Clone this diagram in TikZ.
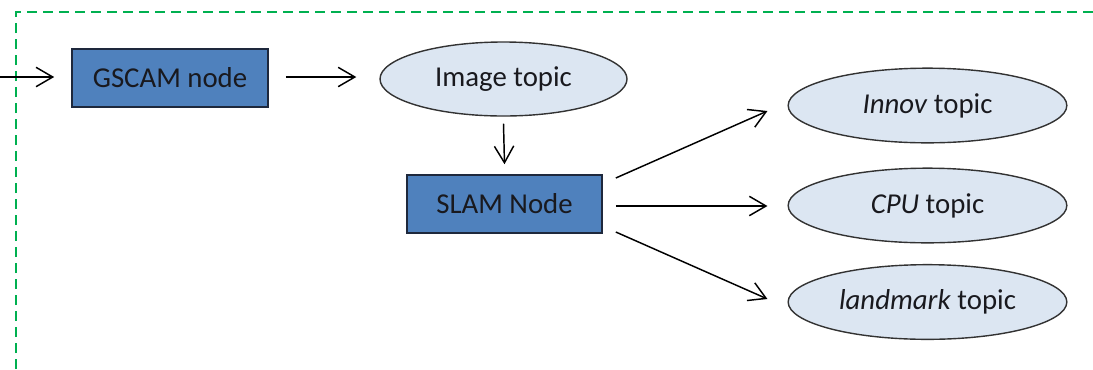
\documentclass[tikz,border=0pt]{standalone}
\usepackage{fontspec}
\setmainfont{Carlito}
\usetikzlibrary{arrows.meta,shapes.geometric}
\definecolor{nodeblue}{RGB}{79,129,189}
\definecolor{nodeedge}{RGB}{30,40,60}
\definecolor{topicfill}{RGB}{220,230,242}
\definecolor{topicedge}{RGB}{50,50,50}
\definecolor{frameGreen}{RGB}{0,176,80}
\definecolor{labelInk}{RGB}{25,25,30}
\tikzset{
  procbox/.style={draw=nodeedge, line width=1.2pt, fill=nodeblue, inner sep=0pt, text=labelInk,
    minimum width=147pt, minimum height=43.5pt, font=\fontsize{21.6}{24}\selectfont},
  topic/.style={ellipse, draw=topicedge, line width=1.05pt, fill=topicfill, inner sep=0pt, text=labelInk,
    font=\fontsize{21.6}{24}\selectfont},
  flow/.style={line width=1.1pt, -{Straight Barb[length=12.5pt,width=14.5pt,line width=1.1pt]}},
  frame/.style={draw=frameGreen, line width=1pt, dash pattern=on 7.5pt off 4.5pt}
}
\begin{document}
\begin{tikzpicture}[x=0.75pt, y=-0.75pt]
  \useasboundingbox (0,0) rectangle (1093,369);
  % subsystem boundary
  \draw[frame] (16,369) -- (16,12) -- (1093,12);

  % nodes
  \node[procbox] (gscam) at (170,78) {GSCAM node};
  \node[topic, minimum width=185.25pt, minimum height=55.5pt] (image) at (503.5,79) {Image topic};
  \node[procbox, minimum width=146.25pt] (slam) at (504.5,204) {SLAM Node};
  \node[topic, minimum width=209pt, minimum height=56pt] (innov) at (927.5,105.5) {\textit{Innov} topic};
  \node[topic, minimum width=209pt, minimum height=56pt] (cpu) at (927.5,205.5) {\textit{CPU} topic};
  \node[topic, minimum width=209pt, minimum height=56pt] (landmark) at (927.5,302) {\textit{landmark} topic};

  % incoming stream
  \coordinate (camin) at (0,77);

  % connectors
  \draw[flow, shorten >=17*0.75pt] (camin) -- (gscam.west |- camin);
  \draw[flow] ([shift={(17,-1)}]gscam.east) -- ([shift={(-23,-2)}]image.west);
  \draw[flow] ([shift={(0,7)}]image.south) -- ([shift={(0,-10)}]slam.north);
  \draw[flow] ([shift={(13,-26)}]slam.east) -- ([shift={(-20,5.5)}]innov.west);
  \draw[flow] ([shift={(13,2)}]slam.east) -- ([shift={(-20,0.5)}]cpu.west);
  \draw[flow] ([shift={(13,28)}]slam.east) -- ([shift={(-20,-3)}]landmark.west);
\end{tikzpicture}
\end{document}
